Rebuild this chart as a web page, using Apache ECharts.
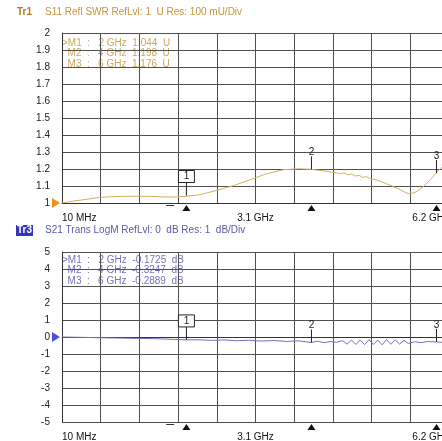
<!DOCTYPE html>
<html>
<head>
<meta charset="utf-8">
<script src="https://cdn.jsdelivr.net/npm/echarts@6/dist/echarts.min.js"></script>
<style>
  html, body { margin: 0; padding: 0; background: #fff; }
  #main { width: 442px; height: 441px; }
</style>
</head>
<body>
<div id="main"></div>
<script>
// S11 SWR trace (GHz, U)
var s11Freq = [0.01, 0.2, 0.35, 0.5, 0.62, 0.8, 1.0, 1.2, 1.42, 1.6, 1.8, 2.0, 2.22, 2.48, 2.75, 3.02, 3.28, 3.55, 3.8, 4.0,
  4.15, 4.25, 4.32, 4.4, 4.46, 4.52, 4.58, 4.64, 4.7, 4.76, 4.82, 4.88, 4.94, 5.0, 5.1, 5.2, 5.3, 5.42, 5.5, 5.55, 5.62, 5.7, 5.8, 5.9, 6.0, 6.1, 6.2]
var s11Val = [1.000, 1.012, 1.019, 1.027, 1.033, 1.037, 1.039, 1.040, 1.039, 1.036, 1.035, 1.040, 1.049, 1.074, 1.102, 1.137, 1.172, 1.196, 1.201, 1.198,
  1.191, 1.186, 1.181, 1.178, 1.172, 1.177, 1.166, 1.171, 1.158, 1.163, 1.151, 1.155, 1.143, 1.140, 1.128, 1.113, 1.098, 1.078, 1.063, 1.055, 1.058, 1.070, 1.100, 1.137, 1.178, 1.215, 1.245]

// S21 LogM trace (GHz, dB)
var s21Freq = [0.01, 0.3, 0.6, 0.9, 1.2, 1.5, 1.8, 2.0, 2.2, 2.4, 2.6, 2.8, 3.0, 3.2, 3.4, 3.6, 3.8, 4.0, 4.1, 4.2, 4.3, 4.4,
  4.5, 4.57, 4.64, 4.71, 4.78, 4.85, 4.92, 4.99, 5.06, 5.13, 5.2, 5.27, 5.34, 5.41, 5.48, 5.55, 5.65, 5.75, 5.85, 6.0, 6.1, 6.2]
var s21Val = [0.00, -0.02, -0.04, -0.06, -0.08, -0.10, -0.14, -0.17, -0.16, -0.20, -0.17, -0.22, -0.19, -0.24, -0.21, -0.26, -0.23, -0.32, -0.25, -0.33, -0.27, -0.31,
  -0.22, -0.42, -0.18, -0.44, -0.17, -0.45, -0.16, -0.44, -0.18, -0.46, -0.15, -0.43, -0.17, -0.42, -0.20, -0.38, -0.28, -0.33, -0.27, -0.29, -0.31, -0.30]

// markers
var markerNames = ['M1', 'M2', 'M3']
var markerFreq = [2, 4, 6]
var s11Marker = [1.044, 1.198, 1.176]
var s21Marker = [-0.1725, -0.3247, -0.2889]
var s11MarkerText = ['1.044', '1.198', '1.176']
var s21MarkerText = ['-0.1725', '-0.3247', '-0.2889']

// x axis: 10 MHz .. 6.2 GHz in 10 divisions, screen cut off a little before the stop
var xStart = 0.01
var xStop = 6.2
var xDiv = 0.619
var xVisibleMax = 6.088
var xTickLabels = ['10 MHz', '', '', '', '', '3.1 GHz', '', '', '', '', '']
var xStopLabel = '6.2 GHz'
var sweepDash = 1.74

var goldLine = '#d4ac62'
var goldText = '#c4963c'
var blueLine = '#7070c4'
var blueText = '#5a5aa8'
var font = 'Liberation Sans, Arial, sans-serif'

var myChart = echarts.init(document.getElementById('main'))

function zip(a, b) {
  return a.map(function (v, i) { return [v, b[i]] })
}

function xAxisCfg(idx) {
  return {
    type: 'value',
    gridIndex: idx,
    min: xStart,
    max: xVisibleMax,
    interval: xDiv,
    axisLine: { show: true, lineStyle: { color: '#333', width: 1 } },
    axisTick: { show: false },
    splitLine: { show: true, showMaxLine: false, lineStyle: { color: '#505050', width: 1 } },
    axisLabel: {
      show: true,
      margin: 10,
      color: '#111',
      fontSize: 10,
      fontFamily: font,
      showMinLabel: true,
      showMaxLabel: false,
      hideOverlap: false,
      alignMinLabel: 'left',
      formatter: function (v, i) { return xTickLabels[i] || '' }
    }
  }
}

function yAxisCfg(idx, min, max, step) {
  return {
    type: 'value',
    gridIndex: idx,
    min: min,
    max: max,
    interval: step,
    axisLine: { show: true, lineStyle: { color: '#333', width: 1 } },
    axisTick: { show: false },
    splitLine: { show: true, lineStyle: { color: '#505050', width: 1 } },
    axisLabel: {
      margin: 12,
      color: '#222',
      fontSize: 10,
      fontFamily: font,
      formatter: function (v) { return String(Math.round(v * 10) / 10) }
    }
  }
}

// marker flags, triangles below the axis, ref level arrow, stop label
function markerRender(yMin, refLvl, color) {
  return function (params, api) {
    var i = params.dataIndex
    var pt = api.coord([api.value(0), api.value(1)])
    var base = api.coord([api.value(0), yMin])
    var children = [
      { type: 'line', shape: { x1: pt[0], y1: pt[1], x2: pt[0], y2: pt[1] - 13 }, style: { stroke: '#222', lineWidth: 1 } },
      { type: 'polygon', shape: { points: [[base[0] - 4, base[1] + 8], [base[0] + 4, base[1] + 8], [base[0], base[1] + 2]] }, style: { fill: '#111' } }
    ]
    if (i === 0) {
      children.push({ type: 'rect', shape: { x: pt[0] - 8, y: pt[1] - 25, width: 16, height: 12 }, style: { fill: '#fff', stroke: '#222', lineWidth: 1 } })
      children.push({ type: 'text', style: { x: pt[0], y: pt[1] - 19, text: '1', fill: '#222', font: '10px ' + font, align: 'center', verticalAlign: 'middle' } })
      var d = api.coord([sweepDash, yMin])
      children.push({ type: 'line', shape: { x1: d[0] - 4, y1: d[1] + 2.5, x2: d[0] + 4, y2: d[1] + 2.5 }, style: { stroke: '#333', lineWidth: 1 } })
      var r = api.coord([xStart, refLvl])
      children.push({ type: 'polygon', shape: { points: [[r[0] - 10, r[1] - 5], [r[0] - 10, r[1] + 5], [r[0] - 2, r[1]]] }, style: { fill: color } })
      var s = api.coord([xStop, yMin])
      children.push({ type: 'text', style: { x: s[0], y: s[1] + 15, text: xStopLabel, fill: '#111', font: '10px ' + font, align: 'right', verticalAlign: 'middle' } })
    } else {
      children.push({ type: 'text', style: { x: pt[0], y: pt[1] - 17, text: String(i + 1), fill: '#222', font: '10px ' + font, align: 'center', verticalAlign: 'middle' } })
    }
    return { type: 'group', children: children }
  }
}

function tableText(top, values, unit, color) {
  return markerNames.map(function (n, i) {
    return {
      type: 'text',
      left: 62,
      top: top + i * 10.7,
      style: {
        text: (i === 0 ? '>' : '  ') + n + '  :   ' + markerFreq[i] + ' GHz  ' + values[i] + '  ' + unit,
        fill: color,
        opacity: 0.85,
        font: '10px ' + font
      }
    }
  })
}

var option = {
  animation: false,
  backgroundColor: '#fff',
  grid: [
    { left: 62, top: 33, right: 0, height: 170, containLabel: false, outerBoundsMode: 'none' },
    { left: 62, top: 252, right: 0, height: 170, containLabel: false, outerBoundsMode: 'none' }
  ],
  xAxis: [xAxisCfg(0), xAxisCfg(1)],
  yAxis: [yAxisCfg(0, 1, 2, 0.1), yAxisCfg(1, -5, 5, 1)],
  graphic: [
    { type: 'text', left: 17, top: 7, style: { text: 'Tr1', fill: '#b07c1c', font: 'bold 10px ' + font } },
    { type: 'text', left: 45, top: 7, style: { text: 'S11 Refl SWR RefLvl: 1  U Res: 100 mU/Div', fill: goldText, font: '10px ' + font } },
    { type: 'rect', left: 16, top: 225, shape: { width: 17, height: 11 }, style: { fill: '#3434b4' } },
    { type: 'text', left: 17, top: 225, style: { text: 'Tr3', fill: '#fff', font: 'bold 10px ' + font } },
    { type: 'text', left: 45, top: 225, style: { text: 'S21 Trans LogM RefLvl: 0  dB Res: 1  dB/Div', fill: blueText, font: '10px ' + font } }
  ].concat(tableText(38, s11MarkerText, 'U', goldText)).concat(tableText(255, s21MarkerText, 'dB', blueText)),
  series: [
    {
      name: 'S11',
      type: 'line',
      xAxisIndex: 0,
      yAxisIndex: 0,
      data: zip(s11Freq, s11Val),
      showSymbol: false,
      lineStyle: { color: goldLine, width: 1 },
      z: 3
    },
    {
      name: 'S21',
      type: 'line',
      xAxisIndex: 1,
      yAxisIndex: 1,
      data: zip(s21Freq, s21Val),
      showSymbol: false,
      lineStyle: { color: blueLine, width: 1 },
      z: 3
    },
    {
      type: 'custom',
      xAxisIndex: 0,
      yAxisIndex: 0,
      clip: false,
      data: zip(markerFreq, s11Marker),
      renderItem: markerRender(1, 1, '#f0901c'),
      z: 4
    },
    {
      type: 'custom',
      xAxisIndex: 1,
      yAxisIndex: 1,
      clip: false,
      data: zip(markerFreq, s21Marker),
      renderItem: markerRender(-5, 0, '#5050d8'),
      z: 4
    }
  ]
}

myChart.setOption(option)
</script>
</body>
</html>
